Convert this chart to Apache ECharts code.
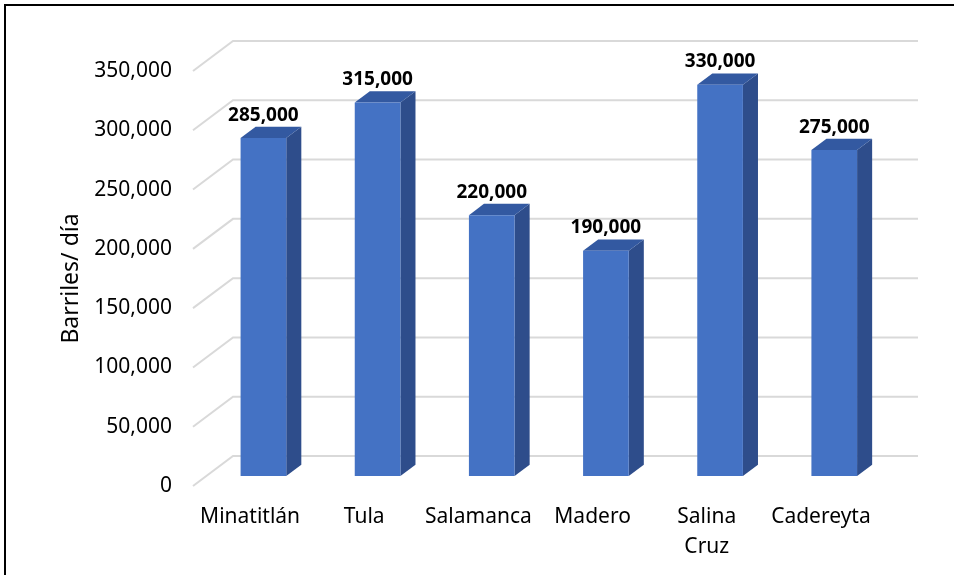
<!DOCTYPE html>
<html>
<head>
<meta charset="utf-8">
<script src="https://cdn.jsdelivr.net/npm/echarts@6/dist/echarts.min.js"></script>
<style>html,body{margin:0;padding:0;background:#fff}#c{width:954px;height:575px}</style>
</head>
<body>
<div id="c"></div>
<script>
const categories = ['Minatitlán', 'Tula', 'Salamanca', 'Madero', 'Salina Cruz', 'Cadereyta'];
const values = [285000, 315000, 220000, 190000, 330000, 275000];
const yTicks = [0, 50000, 100000, 150000, 200000, 250000, 300000, 350000];
const axisTitle = 'Barriles/ día';

const DX = 40, DY = 30;          // depth of the 3D box (back wall offset)
const TF = 1 / 3, TB = 0.71;     // bar front/back depth fractions
const FONT = '"Noto Sans", "Liberation Sans", sans-serif';
const fmt = v => v.toLocaleString('en-US');

const chart = echarts.init(document.getElementById('c'), null, {renderer: 'canvas'});
chart.setOption({
  backgroundColor: '#fff',
  animation: false,
  graphic: [{
    type: 'rect', z: 100,
    shape: {x: 5, y: 5, width: 970, height: 600},
    style: {fill: 'none', stroke: '#000', lineWidth: 2}
  }],
  grid: {left: 193, right: 76, top: 71, bottom: 89},
  xAxis: {
    type: 'category', data: categories,
    axisLine: {show: false}, axisTick: {show: false}, splitLine: {show: false},
    axisLabel: {
      fontSize: 21, fontFamily: FONT, color: '#000', margin: 16, lineHeight: 30,
      interval: 0, formatter: v => v.replace(' ', '\n')
    }
  },
  yAxis: {
    type: 'value', min: 0, max: 350000, interval: 50000,
    name: axisTitle, nameLocation: 'middle', nameGap: 110,
    nameTextStyle: {fontSize: 23, fontFamily: FONT, color: '#000'},
    axisLine: {show: false}, axisTick: {show: false}, splitLine: {show: false},
    axisLabel: {fontSize: 21, fontFamily: FONT, color: '#000', margin: 21, formatter: v => fmt(v)}
  },
  series: [{
    type: 'custom', z: 1, clip: false,
    data: yTicks.map(v => [0, v]),
    encode: {x: 0, y: 1},
    renderItem: function (params, api) {
      const cs = params.coordSys;
      const y = api.coord([0, api.value(1)])[1];
      const x0 = cs.x, x1 = cs.x + cs.width;
      return {
        type: 'polyline',
        shape: {points: [[x0, y], [x0 + DX, y - DY], [x1 + DX, y - DY]]},
        style: {stroke: '#D9D9D9', lineWidth: 2, fill: null}
      };
    }
  }, {
    type: 'custom', z: 2, clip: false,
    data: values.map((v, i) => [i, v]),
    encode: {x: 0, y: 1},
    renderItem: function (params, api) {
      const i = api.value(0), v = api.value(1);
      const top = api.coord([i, v]);
      const base = api.coord([i, 0]);
      const w = api.size([1, 0])[0] * 0.4;
      const xl = top[0] - w / 2, xr = top[0] + w / 2;
      const fx = DX * TF, fy = DY * TF, bx = DX * TB, by = DY * TB;
      const fl = xl + fx, fr = xr + fx, ft = top[1] - fy, fb = base[1] - fy;
      const bl = xl + bx, br = xr + bx, bt = top[1] - by, bb = base[1] - by;
      return {
        type: 'group',
        children: [
          {type: 'polygon', shape: {points: [[fr, ft], [br, bt], [br, bb], [fr, fb]]},
            style: {fill: '#2E4D8B'}},
          {type: 'polygon', shape: {points: [[fl, ft], [fr, ft], [br, bt], [bl, bt]]},
            style: {fill: '#3359A1'}},
          {type: 'rect', shape: {x: fl, y: ft, width: w, height: fb - ft},
            style: {fill: '#4472C4'}},
          {type: 'text', style: {
            text: fmt(v), x: (fl + fr) / 2, y: bt - 2,
            align: 'center', verticalAlign: 'bottom',
            fontSize: 19, fontWeight: 'bold', fontFamily: FONT, fill: '#000'
          }}
        ]
      };
    }
  }]
});
</script>
</body>
</html>
